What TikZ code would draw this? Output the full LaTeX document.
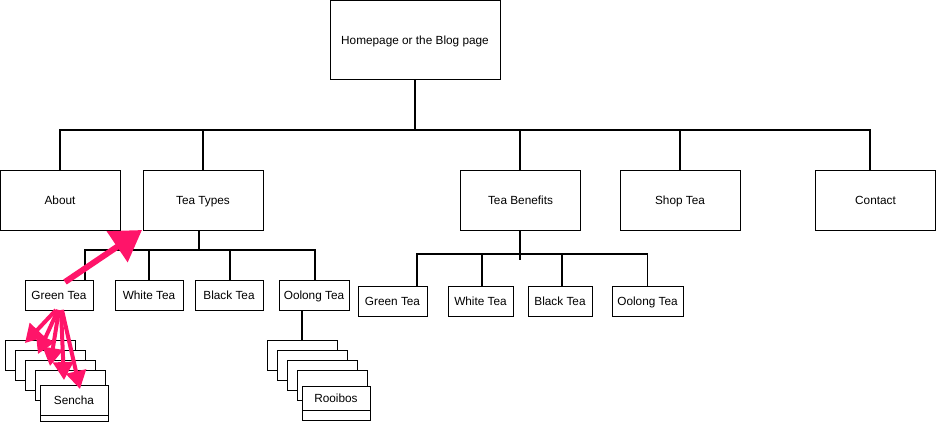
\documentclass[tikz,border=0pt]{standalone}
\usepackage{fontspec}
\setmainfont{Liberation Sans}
\usetikzlibrary{arrows.meta}

\definecolor{arrowpink}{RGB}{255,20,105}

\begin{document}
\begin{tikzpicture}[x=1pt, y=-1pt,
    page/.style={draw, fill=white, line width=0.8pt, inner sep=0pt, outer sep=0pt,
        text height=9pt, text depth=0pt, font=\fontsize{11.8}{13}\selectfont},
    toppage/.style={page, minimum width=120, minimum height=60},
    subpage/.style={page, minimum width=68, minimum height=30},
    card/.style={page, minimum width=70, minimum height=30},
    link/.style={line width=1.6pt, black},
    bigarrow/.style={arrowpink, line width=6pt, -{Triangle[length=30pt, width=36pt]}},
    smallarrow/.style={arrowpink, line width=4pt, -{Triangle[length=18pt, width=20pt]}}
]

    \useasboundingbox (0,0) rectangle (936,421);

    % ==========================================
    % LEVEL 0: HOME
    % ==========================================
    \node[page, minimum width=170, minimum height=79] (home) at (415,40) {Homepage or the Blog page};
    \coordinate (homebus) at (415,130);

    % ==========================================
    % LEVEL 1: MAIN PAGES
    % ==========================================
    \node[toppage] (about)    at (60,200)    {About};
    \node[toppage] (teatypes) at (203,200)   {Tea Types};
    \node[toppage] (benefits) at (520.5,200) {Tea Benefits};
    \node[toppage] (shop)     at (680,200)   {Shop Tea};
    \node[toppage] (contact)  at (875.5,200) {Contact};

    \draw[link] (home.south) -- (homebus);
    \draw[link] (homebus) -| (about.north);
    \draw[link] (homebus) -| (teatypes.north);
    \draw[link] (homebus) -| ([xshift=-0.5pt]benefits.north);
    \draw[link] (homebus) -| (shop.north);
    \draw[link] (homebus) -| ([xshift=-5.5pt]contact.north);

    % ==========================================
    % LEVEL 2: TEA TYPES
    % ==========================================
    \node[subpage] (typegreen)  at (59,295)  {Green Tea};
    \node[subpage] (typewhite)  at (149,295) {White Tea};
    \node[subpage] (typeblack)  at (229,295) {Black Tea};
    \node[subpage, minimum width=70] (typeoolong) at (314,295) {Oolong Tea};

    \coordinate (typesbus) at (199,250);
    \draw[link] (typesbus |- teatypes.south) -- (typesbus);
    \draw[link] (typesbus) -| ([xshift=26pt]typegreen.north);
    \draw[link] (typesbus) -| (typewhite.north);
    \draw[link] (typesbus) -| ([xshift=1pt]typeblack.north);
    \draw[link] (typesbus) -| ([xshift=1pt]typeoolong.north);

    % ==========================================
    % LEVEL 2: TEA BENEFITS
    % ==========================================
    \node[subpage, minimum width=69] (benefitgreen)  at (392.5,301) {Green Tea};
    \node[subpage, minimum width=65] (benefitwhite)  at (480.5,301) {White Tea};
    \node[subpage, minimum width=64] (benefitblack)  at (560,301)   {Black Tea};
    \node[subpage, minimum width=71] (benefitoolong) at (647.5,301) {Oolong Tea};

    \coordinate (benefitbus) at (520,254);
    \draw[link] (benefitbus |- benefits.south) -- ++(0,30);
    \draw[link] (benefitbus) -| ([xshift=24.5pt]benefitgreen.north);
    \draw[link] (benefitbus) -| ([xshift=1.5pt]benefitwhite.north);
    \draw[link] (benefitbus) -| ([xshift=2pt]benefitblack.north);
    \draw[link] (benefitbus) -| (benefitoolong.north);

    % ==========================================
    % LEVEL 3: GREEN TEA STACK
    % ==========================================
    \node[card] (greencarda) at (40,355) {};
    \node[card] (greencardb) at (50,365) {};
    \node[card] (greencardc) at (60,375) {};
    \node[card] (greencardd) at (70,385) {};
    \node[subpage] (sencha) at (74,400) {Sencha};
    \draw[page] (sencha.south west) rectangle ([yshift=-6pt]sencha.south east);

    % ==========================================
    % LEVEL 3: OOLONG TEA STACK
    % ==========================================
    \node[card] (oolongcarda) at (302,355) {};
    \node[card] (oolongcardb) at (312,365) {};
    \node[card] (oolongcardc) at (322,375) {};
    \node[card] (oolongcardd) at (332,385) {};
    \node[subpage, minimum height=24] (rooibos) at (336,398) {Rooibos};
    \draw[page] (rooibos.south west) rectangle ([yshift=-10pt]rooibos.south east);

    \draw[link] (oolongcarda.north) -- (oolongcarda.north |- typeoolong.south);

    % ==========================================
    % PINK ARROWS (navigation hints)
    % ==========================================
    \draw[bigarrow] ([xshift=6pt, yshift=-2pt]typegreen.north) -- ([xshift=-1pt]teatypes.south west);

    \draw[smallarrow] ([xshift=-3pt]typegreen.south) -- ([xshift=-15pt, yshift=-3pt]greencarda.north);
    \draw[smallarrow] ([xshift=-1pt]typegreen.south) -- ([xshift=-12pt, yshift=-4pt]greencardb.north);
    \draw[smallarrow] (typegreen.south) -- ([xshift=-10pt, yshift=-6pt]greencardc.north);
    \draw[smallarrow] ([xshift=2pt]typegreen.south) -- ([xshift=-6pt, yshift=-10pt]greencardd.north);
    \draw[smallarrow] ([xshift=3pt]typegreen.south) -- ([xshift=6pt, yshift=-4pt]sencha.north);

\end{tikzpicture}
\end{document}
